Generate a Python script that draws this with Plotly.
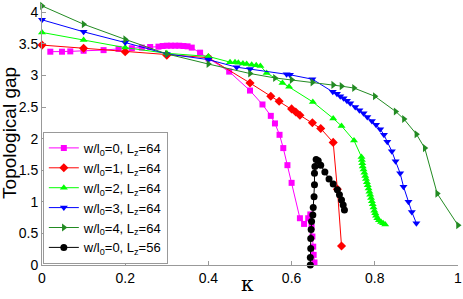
import plotly.graph_objects as go

# ---- data ----
kappa_w0 = [0.02, 0.048, 0.068, 0.10, 0.148, 0.184, 0.216, 0.24, 0.26, 0.28, 0.29, 0.30, 0.31, 0.32,
            0.33, 0.34, 0.35, 0.36, 0.38, 0.40, 0.45, 0.50, 0.53, 0.55, 0.56, 0.571, 0.58, 0.59, 0.60,
            0.62, 0.63, 0.64, 0.645, 0.648, 0.65, 0.652, 0.653, 0.655]
gap_w0 = [3.375, 3.375, 3.38, 3.39, 3.40, 3.42, 3.43, 3.44, 3.45, 3.455, 3.465, 3.47, 3.47, 3.47,
          3.47, 3.465, 3.46, 3.44, 3.36, 3.27, 3.06, 2.76, 2.54, 2.36, 2.24, 2.06, 1.85, 1.58, 1.30,
          0.74, 0.65, 0.74, 0.80, 0.60, 0.45, 0.29, 0.16, 0.04]

kappa_w1 = [0.0, 0.1, 0.2, 0.3, 0.4, 0.5, 0.55, 0.57, 0.60, 0.61, 0.62, 0.65, 0.67, 0.70, 0.71, 0.72]
gap_w1 = [3.48, 3.43, 3.375, 3.32, 3.28, 2.88, 2.67, 2.59, 2.47, 2.42, 2.37, 2.25, 2.16, 1.94, 1.20, 0.30]

kappa_w2 = [0.0, 0.1, 0.2, 0.3, 0.4, 0.452, 0.464, 0.472, 0.483, 0.492, 0.504, 0.515, 0.525, 0.54,
            0.578, 0.594, 0.651, 0.70, 0.72, 0.75,
            0.768, 0.769, 0.770, 0.771, 0.773, 0.775, 0.777, 0.779, 0.781, 0.783, 0.785, 0.787,
            0.789, 0.791, 0.793, 0.795, 0.797, 0.799, 0.801, 0.803, 0.806, 0.810, 0.815, 0.820, 0.825]
gap_w2 = [3.68, 3.56, 3.44, 3.35, 3.30, 3.21, 3.21, 3.20, 3.19, 3.18, 3.17, 3.16, 3.15, 3.04,
          2.88, 2.82, 2.58, 2.32, 2.20, 1.97,
          1.71, 1.66, 1.61, 1.56, 1.51, 1.46, 1.41, 1.36, 1.31, 1.26, 1.21, 1.16,
          1.11, 1.06, 1.01, 0.96, 0.91, 0.86, 0.82, 0.78, 0.74, 0.71, 0.68, 0.66, 0.64]

kappa_w3 = [0.0, 0.1, 0.2, 0.3, 0.4, 0.468, 0.50, 0.588, 0.596, 0.65, 0.699, 0.709, 0.717, 0.725,
            0.733, 0.741, 0.753, 0.763, 0.773, 0.782, 0.793, 0.803, 0.813, 0.822, 0.830, 0.841,
            0.85, 0.861, 0.869, 0.881, 0.889, 0.90]
gap_w3 = [3.88, 3.69, 3.52, 3.34, 3.25, 3.13, 3.10, 3.02, 3.01, 2.94, 2.74, 2.71, 2.67, 2.64,
          2.60, 2.56, 2.50, 2.45, 2.40, 2.34, 2.28, 2.22, 2.15, 2.06, 1.95, 1.80,
          1.64, 1.45, 1.24, 1.00, 0.84, 0.66]

kappa_w4 = [0.0, 0.1, 0.2, 0.3, 0.4, 0.5, 0.56, 0.60, 0.65, 0.70, 0.72, 0.75, 0.80, 0.85, 0.87,
            0.90, 0.92, 0.95, 1.0]
gap_w4 = [4.10, 3.81, 3.57, 3.34, 3.18, 3.03, 2.96, 2.93, 2.89, 2.85, 2.83, 2.80, 2.67, 2.43, 2.31,
          2.07, 1.85, 1.13, 0.63]

kappa_l56 = [0.645, 0.645, 0.646, 0.646, 0.647, 0.648, 0.651, 0.652, 0.654, 0.655, 0.655, 0.656,
             0.659, 0.664, 0.670, 0.680, 0.690, 0.700, 0.710, 0.715, 0.720, 0.724, 0.727]
gap_l56 = [0.00, 0.12, 0.26, 0.42, 0.56, 0.69, 0.79, 0.91, 1.08, 1.27, 1.45, 1.56,
           1.67, 1.65, 1.58, 1.47, 1.36, 1.28, 1.19, 1.11, 1.03, 0.95, 0.87]

names = ["w/l<sub>0</sub>=0, L<sub>z</sub>=64", "w/l<sub>0</sub>=1, L<sub>z</sub>=64",
         "w/l<sub>0</sub>=2, L<sub>z</sub>=64", "w/l<sub>0</sub>=3, L<sub>z</sub>=64",
         "w/l<sub>0</sub>=4, L<sub>z</sub>=64", "w/l<sub>0</sub>=0, L<sub>z</sub>=56"]
x_ticks = [0, 0.2, 0.4, 0.6, 0.8, 1]
x_tick_labels = ["0", "0.2", "0.4", "0.6", "0.8", "1"]
y_ticks = [0, 0.5, 1, 1.5, 2, 2.5, 3, 3.5, 4]
y_tick_labels = ["0", "0.5", "1", "1.5", "2", "2.5", "3", "3.5", "4"]
x_title = "κ"
y_title = "Topological gap"

series = [
    (kappa_w0, gap_w0, "#ff00ff", "square", 6),
    (kappa_w1, gap_w1, "#ff0000", "diamond", 7),
    (kappa_w2, gap_w2, "#00ff00", "triangle-up", 7),
    (kappa_w3, gap_w3, "#0000ff", "triangle-down", 7),
    (kappa_w4, gap_w4, "#228b22", "triangle-right", 7),
    (kappa_l56, gap_l56, "#000000", "circle", 7),
]

fig = go.Figure()
for (xs, ys, col, sym, sz), nm in zip(series, names):
    fig.add_trace(go.Scatter(
        x=xs, y=ys, name=nm, mode="lines+markers",
        line=dict(color=col, width=1),
        marker=dict(color=col, symbol=sym, size=sz, line=dict(width=0)),
        cliponaxis=False,
    ))

font_family = "Liberation Sans, Arial, sans-serif"
fig.update_layout(
    width=463, height=299,
    margin=dict(l=42, r=5, t=4, b=34),
    paper_bgcolor="white", plot_bgcolor="white",
    font=dict(family=font_family, size=14, color="black"),
    showlegend=True,
    legend=dict(
        x=0.002, y=0.004, xanchor="left", yanchor="bottom",
        bgcolor="white", bordercolor="#999999", borderwidth=1,
        font=dict(family=font_family, size=13, color="black"),
        itemwidth=30, tracegroupgap=0,
    ),
    xaxis=dict(
        range=[0, 1], tickvals=x_ticks, ticktext=x_tick_labels,
        ticks="inside", ticklen=4, tickcolor="#999999",
        showline=True, linecolor="#999999", linewidth=1,
        showgrid=False, zeroline=False, automargin=False,
        tickfont=dict(size=14),
    ),
    yaxis=dict(
        range=[0, 4.13], tickvals=y_ticks, ticktext=y_tick_labels,
        ticks="inside", ticklen=4, tickcolor="#999999",
        showline=True, linecolor="#999999", linewidth=1,
        showgrid=False, zeroline=False, automargin=False,
        tickfont=dict(size=14),
    ),
    annotations=[
        dict(text=y_title, xref="paper", yref="paper", x=-0.077, y=0.506,
             xanchor="center", yanchor="middle", textangle=-90, showarrow=False,
             font=dict(family=font_family, size=19, color="black")),
        dict(text=x_title, xref="paper", yref="paper", x=0.493, y=-0.128,
             xanchor="center", yanchor="bottom", showarrow=False,
             font=dict(family="DejaVu Serif, Liberation Serif, serif", size=20, color="black")),
    ],
)

fig.write_html("out.html", config={"displayModeBar": False},
               post_script="document.body.style.margin='0';")
